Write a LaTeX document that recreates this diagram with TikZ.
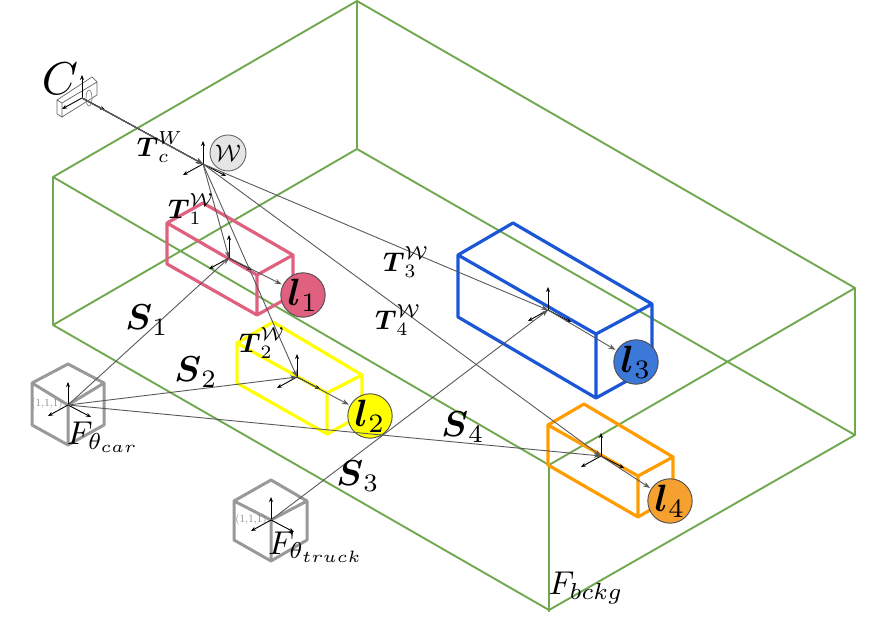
\documentclass[tikz,border=0pt]{standalone}
\usepackage{amsmath}
\usetikzlibrary{arrows.meta}
\definecolor{bckg}{HTML}{70A850}
\definecolor{lcar}{HTML}{E0607F}
\definecolor{lyellow}{HTML}{FFFF00}
\definecolor{lblue}{HTML}{1A56D6}
\definecolor{lorange}{HTML}{FF9C00}
\definecolor{lightblue}{HTML}{3C78D8}
\definecolor{lightorange}{HTML}{F6A030}
\tikzset{
	wall/.style={draw=bckg,line width=1.9pt,line join=round},
	cuboid/.style={line width=3.2pt,line join=round,line cap=round},
	cube/.style={draw=black!40,line width=3pt,line join=round},
	link/.style={draw=black!65,line width=0.9pt,-{Stealth[length=7pt,width=5pt]}},
	axis/.style={draw=black,line width=0.9pt,-{Stealth[length=5pt,width=4pt]}},
	lamp/.style={circle,draw=black!70,line width=0.9pt,minimum size=11.6pt,inner sep=0pt,scale=3.8},
	big/.style={inner sep=0pt,scale=3.6},
	mid/.style={inner sep=0pt,scale=2.7},
	tiny1/.style={inner sep=0pt,text=black!45,scale=1.1}
}
% frame axes at a named point
\newcommand{\frameaxes}[1]{
	\draw[axis] (#1) -- ++(0,-23);
	\draw[axis] (#1) -- ++(-20,11);
	\draw[axis] (#1) -- ++(23,12);
}
\begin{document}
\begin{tikzpicture}[x=1pt,y=-1pt]
	\useasboundingbox (0,0) rectangle (879,617);
	% background box
	\draw[wall] (53,177) -- (357,1) -- (855,288) -- (549,465) -- cycle;
	\draw[wall] (53,325) -- (357,149) -- (855,435) -- (549,610) -- cycle;
	\foreach \x/\y in {53/177,357/1,855/288,549/465}
		\draw[wall] (\x,\y) -- (\x,\y+147);
	% objects
	\draw[cuboid,draw=lcar] (167,223) -- (203,203) -- (293,255) -- (257,275) -- cycle
		(167,223) -- (167,264) -- (257,315) -- (257,275) (257,315) -- (293,295) -- (293,255);
	\draw[cuboid,draw=lyellow] (237,343) -- (273,322) -- (362,375) -- (327,393) -- cycle
		(237,343) -- (237,383) -- (327,434) -- (327,393) (327,434) -- (362,415) -- (362,375);
	\draw[cuboid,draw=lblue] (458,255) -- (513,223) -- (652,304) -- (596,334) -- cycle
		(458,255) -- (458,317) -- (596,398) -- (596,334) (596,398) -- (652,367) -- (652,304);
	\draw[cuboid,draw=lorange] (548,425) -- (584,404) -- (673,457) -- (638,476) -- cycle
		(548,425) -- (548,465) -- (638,517) -- (638,476) (638,517) -- (673,497) -- (673,457);
	% templates
	\draw[cube] (68,364) -- (104,383) -- (104,425) -- (68,445) -- (32,425) -- (32,383) -- cycle
		(32,383) -- (68,405) -- (104,383) (68,405) -- (68,445);
	\draw[cube] (271,480) -- (307,501) -- (307,540) -- (271,561) -- (234,540) -- (234,501) -- cycle
		(234,501) -- (271,520) -- (307,501) (271,520) -- (271,561);
	% camera
	\draw[draw=black!60,line width=0.7pt,line join=round] (57,100) -- (62,103) -- (97,82) -- (97,95) -- (62,117) -- (57,114) -- cycle
		(62,103) -- (62,117) (57,100) -- (92,77) -- (97,82);
	\draw[draw=black!50,line width=0.7pt] (89,98) ellipse (3pt and 8pt);
	% lights
	\node[lamp,fill=lcar] (l1) at (303,295) {$\boldsymbol{l}_1$};
	\node[lamp,fill=lyellow] (l2) at (370,416) {$\boldsymbol{l}_2$};
	\node[lamp,fill=lightblue] (l3) at (636,362) {$\boldsymbol{l}_3$};
	\node[lamp,fill=lightorange] (l4) at (670,501) {$\boldsymbol{l}_4$};
	\node[circle,draw=black!60,fill=black!10,line width=0.9pt,minimum size=15pt,inner sep=0pt,scale=2.4] (world) at (228,153) {$\mathcal{W}$};
	% frames
	\coordinate (cam) at (82,98);
	\coordinate (w) at (203,164);
	\coordinate (o1) at (229,258);
	\coordinate (o2) at (297,377);
	\coordinate (o3) at (548,310);
	\coordinate (o4) at (601,456);
	\coordinate (car) at (68,405);
	\coordinate (truck) at (271,520);
	\foreach \f in {cam,w,o1,o2,o3,o4,car,truck}
		\frameaxes{\f}
	% transforms
	\draw[link] (cam) -- (w);
	\draw[link] (w) -- (o1);
	\draw[link] (w) -- (o2);
	\draw[link] (w) -- (o3);
	\draw[link] (w) -- (o4);
	\draw[link] (o1) -- (l1);
	\draw[link] (o2) -- (l2);
	\draw[link] (o3) -- (l3);
	\draw[link] (o4) -- (l4);
	\draw[link] (car) -- (o1);
	\draw[link] (car) -- (o2);
	\draw[link] (car) -- (o4);
	\draw[link] (truck) -- (o3);
	% labels
	\node[inner sep=0pt,scale=4.6] (camlabel) at (60,79) {$C$};
	\node[mid] (tc) at (160,147) {$\boldsymbol{T}_c^{W}$};
	\node[mid] (t1) at (191,209) {$\boldsymbol{T}_1^{\mathcal{W}}$};
	\node[mid] (t2) at (262,343) {$\boldsymbol{T}_2^{\mathcal{W}}$};
	\node[mid] (t3) at (406,262) {$\boldsymbol{T}_3^{\mathcal{W}}$};
	\node[mid] (t4) at (398,320) {$\boldsymbol{T}_4^{\mathcal{W}}$};
	\node[big] (s1) at (147,320) {$\boldsymbol{S}_1$};
	\node[big] (s2) at (196,372) {$\boldsymbol{S}_2$};
	\node[big] (s3) at (358,476) {$\boldsymbol{S}_3$};
	\node[big] (s4) at (463,427) {$\boldsymbol{S}_4$};
	\node[inner sep=0pt,scale=3.3] (fcar) at (103,437) {$F_{\theta_{car}}$};
	\node[inner sep=0pt,scale=3.3] (ftruck) at (316,547) {$F_{\theta_{truck}}$};
	\node[inner sep=0pt,scale=3.3] (fbckg) at (586,588) {$F_{bckg}$};
	\node[tiny1] (unit1) at (47,404) {(1,1,1)};
	\node[tiny1] (unit2) at (251,520) {(1,1,1)};
\end{tikzpicture}
\end{document}
